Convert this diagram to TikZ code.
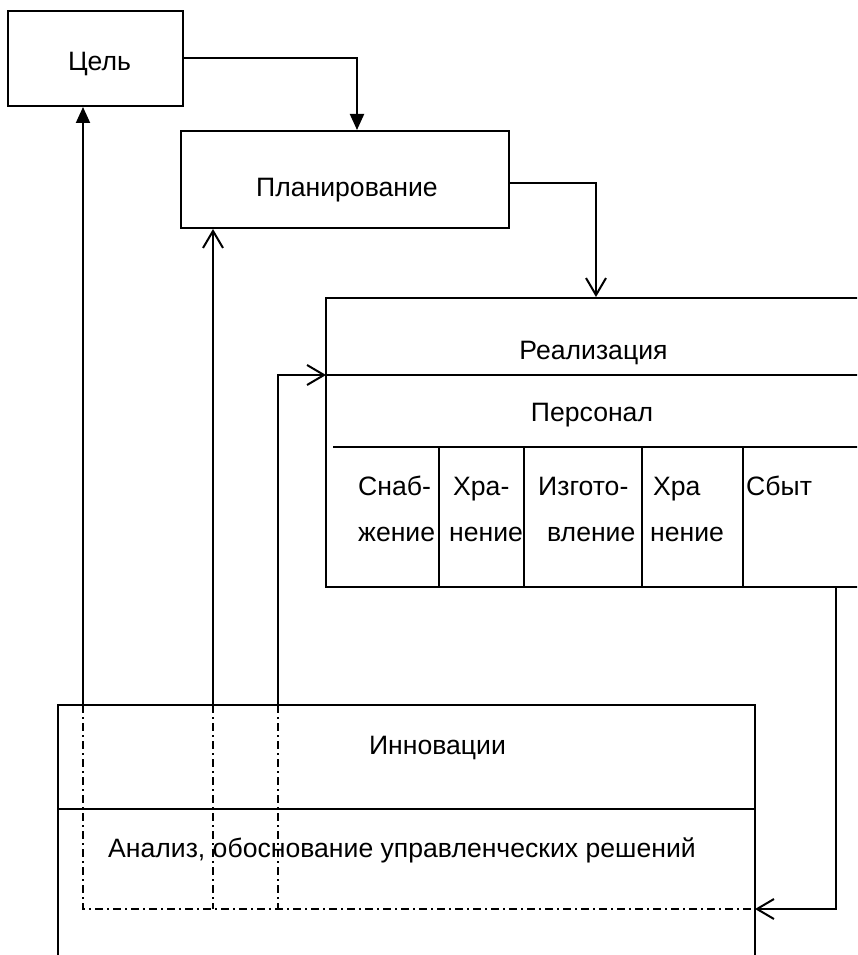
\documentclass[tikz,border=0pt]{standalone}
\usepackage{fontspec}
\setmainfont{Liberation Sans}
\usetikzlibrary{arrows.meta,positioning}

\begin{document}
\begin{tikzpicture}[x=1pt, y=-1pt,
  every node/.style={font=\fontsize{26.6}{31}\selectfont, inner sep=0pt},
  box/.style={rectangle, draw=black, line width=2pt},
  lbl/.style={anchor=base},
  cell/.style={anchor=base west},
  ln/.style={line width=2pt},
  arrF/.style={-{Triangle[length=16pt,width=14pt]}, line width=2pt},
  arrO/.style={-{Straight Barb[length=17pt,width=20pt]}, line width=2pt},
  dd/.style={line width=1.7pt, dash pattern=on 8pt off 4pt on 2pt off 4pt}
]
  \clip (0,0) rectangle (857,955);
  \node[box, minimum width=175pt, minimum height=95pt] (goal) at (95.5,58.5) {};
  \node[box, minimum width=328pt, minimum height=97pt] (plan) at (345,179.5) {};
  \node[box, minimum width=574pt, minimum height=289pt] (impl) at (613,442.5) {};
  \node[box, minimum width=697pt, minimum height=295pt] (innov) at (406.5,852.5) {};
  \node[lbl] (goaltxt) at (99.5,71) {Цель};
  \node[lbl] (plantxt) at (347,196) {Планирование};
  \node[lbl] (impltxt) at (593.5,359) {Реализация};
  \node[lbl] (stafftxt) at (592,421) {Персонал};
  \node[lbl] (innovtxt) at (437.5,754) {Инновации};
  \node[lbl] (analysistxt) at (402,857) {Анализ, обоснование управленческих решений};
  \foreach \x/\y/\t [count=\i] in {358/495/Снаб-, 358/541/жение, 453/495/Хра-, 449/541/нение,
      538/495/Изгото-, 547/541/вление, 653/495/Хра, 650/541/нение, 746/495/Сбыт}
    \node[cell] (cell\i) at (\x,\y) {\t};
  \coordinate (implsep) at (326,375);
  \coordinate (staffsep) at (333,447);
  \coordinate (innovsep) at (58,809);
  \coordinate (in1) at (83,705);
  \coordinate (in2) at (213,705);
  \coordinate (in3) at (278,705);
  \coordinate (fb) at (836,587);
  \coordinate (innoventry) at (755,909);
  \draw[ln] (implsep) -- (implsep -| impl.east);
  \draw[ln] (staffsep) -- (staffsep -| impl.east);
  \foreach \x in {439,524,642,743}
    \draw[ln] (\x,447) -- (\x,587);
  \draw[ln] (innovsep) -- (innovsep -| innov.east);
  \draw[arrF] (goal.east) -| ([xshift=12pt]plan.north);
  \draw[arrO] ([yshift=-3.5pt]plan.east) -| ([xshift=-17pt]impl.north);
  \draw[arrF] (in1) -- (in1 |- goal.south);
  \draw[arrO] (in2) -- (in2 |- plan.south);
  \draw[arrO] (in3) |- (implsep);
  \draw[arrO] (fb) |- (innoventry);
  \draw[dd] (in1) |- (innoventry);
  \draw[dd] (in2) -- (in2 |- innoventry);
  \draw[dd] (in3) -- (in3 |- innoventry);
\end{tikzpicture}
\end{document}
